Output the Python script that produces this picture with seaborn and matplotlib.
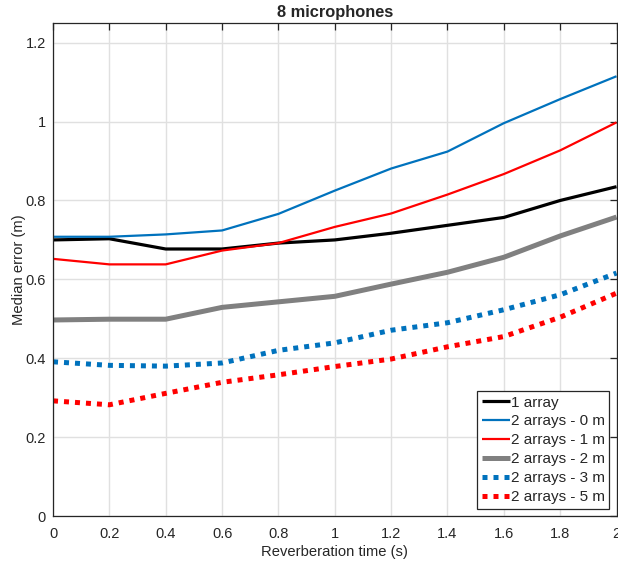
import matplotlib
matplotlib.use("Agg")
import matplotlib.pyplot as plt
import seaborn as sns
import pandas as pd

# Reverberation time (s)
rt60 = [0.0, 0.2, 0.4, 0.6, 0.8, 1.0, 1.2, 1.4, 1.6, 1.8, 2.0]

# Median localisation error (m) for each configuration
one_array = [0.700, 0.703, 0.677, 0.677, 0.692, 0.700, 0.717, 0.737, 0.757, 0.800, 0.835]
two_arrays_0m = [0.708, 0.708, 0.714, 0.724, 0.766, 0.825, 0.881, 0.924, 0.996, 1.057, 1.115]
two_arrays_1m = [0.652, 0.638, 0.638, 0.673, 0.692, 0.733, 0.767, 0.815, 0.867, 0.927, 0.998]
two_arrays_2m = [0.497, 0.499, 0.499, 0.529, 0.543, 0.557, 0.588, 0.618, 0.656, 0.710, 0.758]
two_arrays_3m = [0.391, 0.382, 0.380, 0.388, 0.420, 0.439, 0.471, 0.490, 0.523, 0.561, 0.616]
two_arrays_5m = [0.292, 0.282, 0.311, 0.339, 0.358, 0.379, 0.398, 0.429, 0.455, 0.504, 0.565]

labels = ["1 array", "2 arrays - 0 m", "2 arrays - 1 m",
          "2 arrays - 2 m", "2 arrays - 3 m", "2 arrays - 5 m"]
series = [one_array, two_arrays_0m, two_arrays_1m,
          two_arrays_2m, two_arrays_3m, two_arrays_5m]

colors = ["#000000", "#0072BD", "#FF0000", "#808080", "#0072BD", "#FF0000"]
widths = [2.3, 1.6, 1.6, 3.6, 3.6, 3.6]
styles = ["-", "-", "-", "-", (0, (1, 1.2)), (0, (1, 1.2))]

x_ticks = [0, 0.2, 0.4, 0.6, 0.8, 1, 1.2, 1.4, 1.6, 1.8, 2]
x_tick_labels = ["0", "0.2", "0.4", "0.6", "0.8", "1", "1.2", "1.4", "1.6", "1.8", "2"]
y_ticks = [0, 0.2, 0.4, 0.6, 0.8, 1.0, 1.2]
y_tick_labels = ["0", "0.2", "0.4", "0.6", "0.8", "1", "1.2"]

sns.set_style("white")
plt.rcParams["font.family"] = ["Liberation Sans", "DejaVu Sans"]

fig = plt.figure(figsize=(6.18, 5.61), dpi=100)
ax = fig.add_axes([0.0858, 0.0802, 0.9118, 0.8788])

for vals, lab, col, lw, ls in zip(series, labels, colors, widths, styles):
    df = pd.DataFrame({"rt": rt60, "err": vals})
    sns.lineplot(data=df, x="rt", y="err", ax=ax, color=col, linewidth=lw,
                 linestyle=ls, label=lab, estimator=None, legend="brief")

for line in ax.get_lines():
    line.set_dash_capstyle("butt")
    line.set_solid_capstyle("butt")

ax.set_xlim(0, 2)
ax.set_ylim(0, 1.25)
ax.set_xticks(x_ticks)
ax.set_xticklabels(x_tick_labels)
ax.set_yticks(y_ticks)
ax.set_yticklabels(y_tick_labels)

ax.grid(True, color="#e0e0e0", linewidth=1.0)
ax.set_axisbelow(True)
for sp in ax.spines.values():
    sp.set_visible(True)
    sp.set_color("#262626")
    sp.set_linewidth(0.9)

ax.tick_params(axis="both", direction="in", length=5, width=0.9, color="#262626",
               labelsize=10.5, labelcolor="#262626", top=True, right=True)
ax.tick_params(axis="x", pad=8)
ax.tick_params(axis="y", pad=5)

ax.set_xlabel("Reverberation time (s)", fontsize=10.6, color="#262626", labelpad=3)
ax.set_ylabel("Median error (m)", fontsize=10.6, color="#262626", labelpad=0)
ax.set_title("8 microphones", fontsize=11.8, fontweight="bold", pad=4)

leg = ax.legend(loc="lower right", bbox_to_anchor=(0.987, 0.015), fontsize=11,
                frameon=True, fancybox=False, edgecolor="#262626",
                handlelength=1.85, handletextpad=0.05, borderpad=0.3,
                labelspacing=0.32, borderaxespad=0.0)
leg.get_frame().set_linewidth(0.9)
leg.get_frame().set_alpha(1)

fig.savefig("out.png", dpi=100)
